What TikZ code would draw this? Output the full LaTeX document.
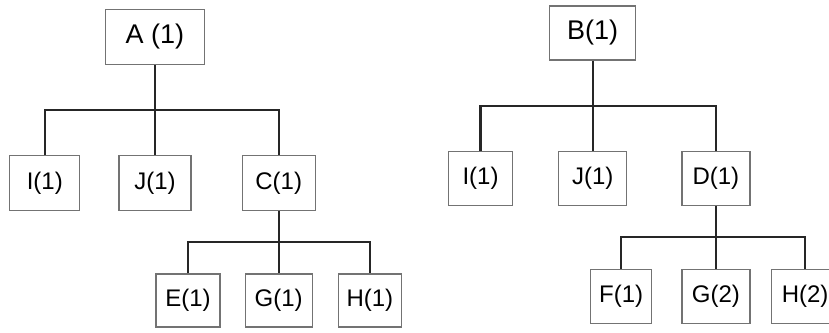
\documentclass[tikz,border=0pt]{standalone}
\usepackage{fontspec}
\setmainfont{Liberation Sans}
\usetikzlibrary{positioning,calc}

\begin{document}
\begin{tikzpicture}[x=0.5pt, y=-0.5pt, box/.style = {draw=black!55, line width=0.6pt, inner sep=0pt, minimum height=27.5pt, font=\fontsize{12}{14}\selectfont}, root/.style = {box, font=\fontsize{13.5}{16}\selectfont}, link/.style = {draw=black!85, line width=1.1pt}]
            \useasboundingbox (0,0) rectangle (829,332);

            \node[root, minimum width=49.5pt] (a) at (155,37) {A (1)};
            \node[box, minimum width=36pt] (j1) [below =45pt of a] {J(1)};
            \node[box, minimum width=35pt] (i1) [left =19pt of j1] {I(1)};
            \node[box, minimum width=36.5pt] (c1) [right =25pt of j1] {C(1)};
            \node[box, minimum width=33.5pt, minimum height=26.5pt] (g1) [below =31pt of c1] {G(1)};
            \node[box, minimum width=32pt, minimum height=26.5pt] (e1) [left =12pt of g1] {E(1)};
            \node[box, minimum width=31.5pt, minimum height=26.5pt] (h1) [right =12.5pt of g1] {H(1)};

            \node[root, minimum width=43pt, minimum height=27pt] (b) at (592.7,33) {B(1)};
            \node[box, minimum width=34pt, minimum height=27pt] (j2) [below =45pt of b] {J(1)};
            \node[box, minimum width=32pt, minimum height=27pt] (i2) [left =22.5pt of j2] {I(1)};
            \node[box, minimum width=34pt, minimum height=27pt] (d2) [right =27pt of j2] {D(1)};
            \node[box, minimum width=34pt, minimum height=27pt] (g2) [below =31.5pt of d2] {G(2)};
            \node[box, minimum width=30.5pt, minimum height=27pt] (f2) [left =14.5pt of g2] {F(1)};
            \node[box, minimum width=34pt, minimum height=27pt] (h2) [right =10pt of g2] {H(2)};

            \coordinate (abus) at ($(a.south)!0.5!(j1.north)$);
            \coordinate (cbus) at ($(c1.south)!0.5!(g1.north)$);
            \coordinate (bbus) at ($(b.south)!0.5!(j2.north)$);
            \coordinate (dbus) at ($(d2.south)!0.5!(g2.north)$);

            \draw[link] (a) -- (j1);
            \draw[link] (i1.north) |- (abus) -| (c1.north);
            \draw[link] (c1) -- (g1);
            \draw[link] (e1.north) |- (cbus) -| (h1.north);
            \draw[link] (b) -- (j2);
            \draw[link] (i2.north) |- (bbus) -| (d2.north);
            \draw[link] (d2) -- (g2);
            \draw[link] (f2.north) |- (dbus) -| (h2.north);

        \end{tikzpicture}
\end{document}
